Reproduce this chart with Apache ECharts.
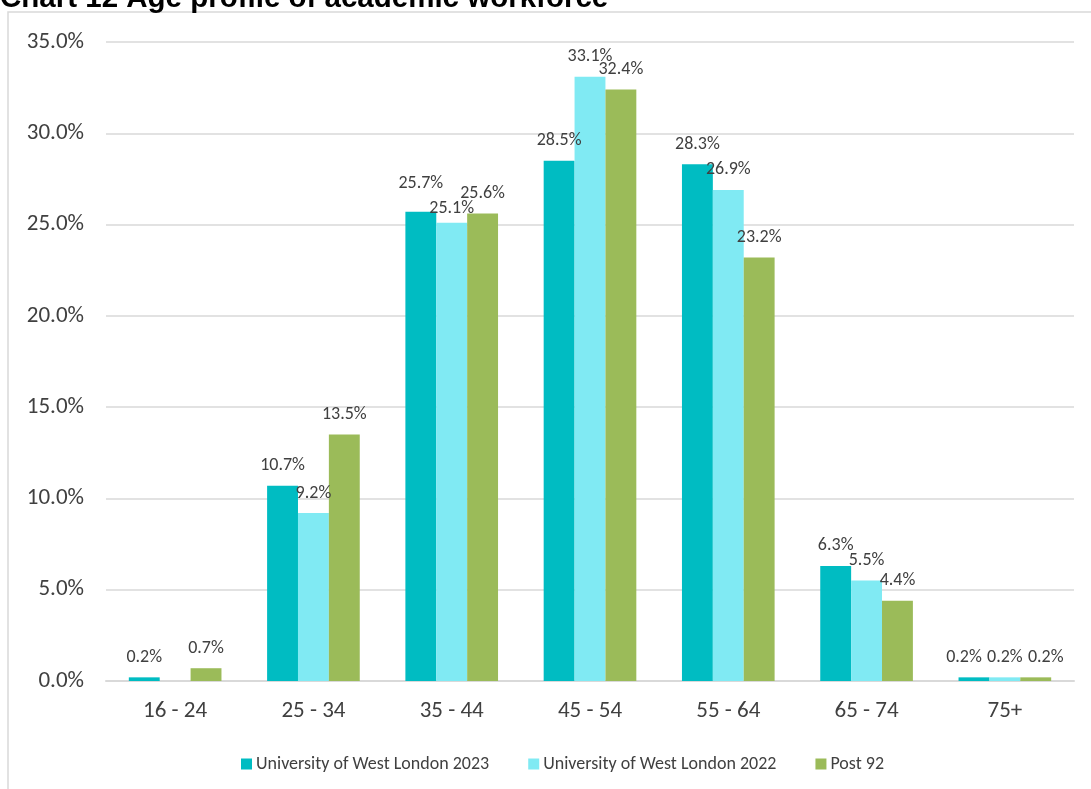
<!DOCTYPE html>
<html>
<head>
<meta charset="utf-8">
<script src="https://cdn.jsdelivr.net/npm/echarts@6/dist/echarts.min.js"></script>
<style>
  html, body { margin: 0; padding: 0; background: #ffffff; }
  #chart { width: 1091px; height: 789px; }
</style>
</head>
<body>
<div id="chart"></div>
<script>
// Age bands and share of academic staff (%) in each band
const ageBands = ['16 - 24', '25 - 34', '35 - 44', '45 - 54', '55 - 64', '65 - 74', '75+'];
const uwl2023 = [0.2, 10.7, 25.7, 28.5, 28.3, 6.3, 0.2];
const uwl2022 = [null, 9.2, 25.1, 33.1, 26.9, 5.5, 0.2];
const post92 = [0.7, 13.5, 25.6, 32.4, 23.2, 4.4, 0.2];
const seriesNames = ['University of West London 2023', 'University of West London 2022', 'Post 92'];
const seriesColors = ['#00BCC2', '#80EAF3', '#9BBB59'];

// Nudges [dx, dy] for value labels that would otherwise collide, keyed by series then band index
const labelNudges = [
  { 2: [0, -8], 6: [-10, 0] },
  { 2: [0, 6] },
  { 6: [10, 0] }
];

const labelFont = 'Carlito, Calibri, "Open Sans", sans-serif';

const chart = echarts.init(document.getElementById('chart'), null, { renderer: 'canvas' });

function makeSeries(idx, data) {
  const nudges = labelNudges[idx];
  return {
    name: seriesNames[idx],
    type: 'bar',
    data: data,
    barGap: '0%',
    barCategoryGap: '33%',
    itemStyle: { color: seriesColors[idx] },
    label: {
      show: true,
      position: 'top',
      distance: 11,
      color: '#404040',
      fontFamily: labelFont,
      fontSize: 18,
      formatter: p => (p.value == null ? '' : p.value.toFixed(1) + '%')
    },
    labelLayout: p => {
      const n = nudges[p.dataIndex];
      return n ? { dx: n[0], dy: n[1] } : {};
    }
  };
}

chart.setOption({
  animation: false,
  backgroundColor: '#ffffff',
  graphic: [
    {
      type: 'rect',
      shape: { x: 8, y: 12, width: 1200, height: 900 },
      style: { fill: 'none', stroke: '#d9d9d9', lineWidth: 1.5 },
      z: -1
    },
    {
      type: 'text',
      left: 0,
      top: -16,
      style: {
        text: 'Chart 12 Age profile of academic workforce',
        font: 'bold 29.5px "Liberation Sans", Arial, sans-serif',
        fill: '#000000'
      }
    }
  ],
  grid: { left: 106, right: 17, top: 42, bottom: 108 },
  legend: {
    top: 750,
    left: 236,
    itemWidth: 11,
    itemHeight: 11,
    itemGap: 39,
    icon: 'rect',
    textStyle: { color: '#404040', fontFamily: labelFont, fontSize: 18, padding: [0, 0, 0, -1] },
    data: seriesNames
  },
  xAxis: {
    type: 'category',
    data: ageBands,
    axisLine: { lineStyle: { color: '#d9d9d9', width: 2 } },
    axisTick: { show: false },
    axisLabel: { color: '#404040', fontFamily: labelFont, fontSize: 23, margin: 19 }
  },
  yAxis: {
    type: 'value',
    min: 0,
    max: 35,
    interval: 5,
    axisLine: { show: false },
    axisTick: { show: false },
    splitLine: { lineStyle: { color: '#d9d9d9', width: 1.5 } },
    axisLabel: {
      color: '#404040',
      fontFamily: labelFont,
      fontSize: 23,
      margin: 22,
      formatter: v => v.toFixed(1) + '%'
    }
  },
  series: [
    makeSeries(0, uwl2023),
    makeSeries(1, uwl2022),
    makeSeries(2, post92)
  ]
});
</script>
</body>
</html>
